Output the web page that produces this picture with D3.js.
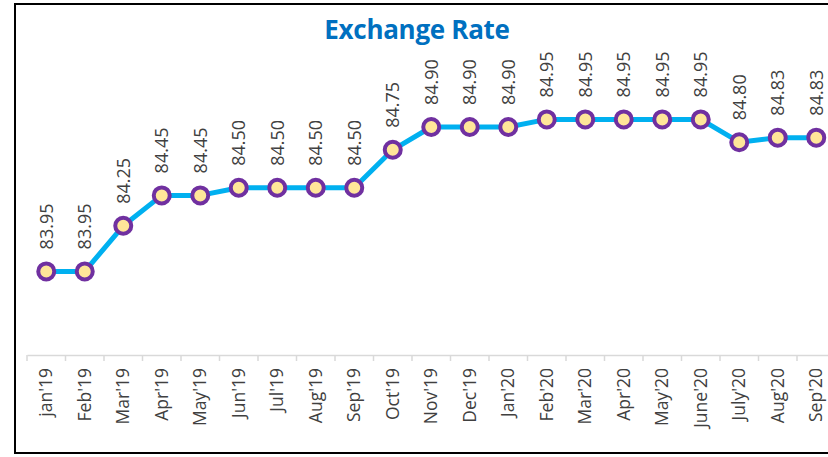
<!DOCTYPE html>
<html>
<head>
<meta charset="utf-8">
<script src="https://cdn.jsdelivr.net/npm/d3@7"></script>
<style>
  body { margin: 0; background: #fff; }
  svg { display: block; }
</style>
</head>
<body>
<script>
// data
const months = ["jan'19", "Feb'19", "Mar'19", "Apr'19", "May'19", "Jun'19", "Jul'19", "Aug'19", "Sep'19",
   "Oct'19", "Nov'19", "Dec'19", "Jan'20", "Feb'20", "Mar'20", "Apr'20", "May'20", "June'20",
   "July'20", "Aug'20", "Sep'20"];
const rates = [83.95, 83.95, 84.25, 84.45, 84.45, 84.50, 84.50, 84.50, 84.50,
   84.75, 84.90, 84.90, 84.90, 84.95, 84.95, 84.95, 84.95, 84.95,
   84.80, 84.83, 84.83];

const width = 828, height = 457;
const font = "'Open Sans', 'DejaVu Sans', sans-serif";

const svg = d3.select('body').append('svg')
   .attr('width', width)
   .attr('height', height);

// chart frame (runs off the right edge like the original)
svg.append('rect')
   .attr('x', 15).attr('y', 4)
   .attr('width', 830).attr('height', 449)
   .style('fill', 'none')
   .style('stroke', '#000')
   .style('stroke-width', 2);

svg.append('text')
   .attr('x', 417).attr('y', 39)
   .attr('text-anchor', 'middle')
   .style('font-family', font)
   .style('font-weight', 'bold')
   .style('font-size', '26px')
   .style('letter-spacing', '-0.3px')
   .style('fill', '#0070C0')
   .text('Exchange Rate');

const x = d3.scaleBand()
   .domain(months)
   .range([27, 27 + 21 * 38.5]);

const y = d3.scaleLinear()
   .domain([83.4, 85.1])
   .range([355, 355 - 1.7 * 152]);

// category axis
const axis = svg.append('g')
   .attr('transform', 'translate(0,355)')
   .call(d3.axisBottom(x).tickSize(0).tickFormat(''));
axis.select('.domain').style('stroke', '#d9d9d9').style('stroke-width', 1.5);

// tick marks sit between categories
svg.selectAll('.sep')
   .data(months)
   .enter().append('line')
   .attr('class', 'sep')
   .attr('x1', d => x(d)).attr('x2', d => x(d))
   .attr('y1', 355).attr('y2', 361)
   .style('stroke', '#d9d9d9')
   .style('stroke-width', 1.5);

svg.selectAll('.xlab')
   .data(months)
   .enter().append('text')
   .attr('class', 'xlab')
   .attr('transform', d => `translate(${x(d) + x.bandwidth() / 2 + 6},368) rotate(-90)`)
   .attr('text-anchor', 'end')
   .style('font-family', font)
   .style('font-size', '17.5px')
   .style('fill', '#404040')
   .text(d => d);

const line = d3.line()
   .x((d, i) => x(months[i]) + x.bandwidth() / 2)
   .y(d => y(d));

svg.append('path')
   .datum(rates)
   .attr('d', line)
   .style('fill', 'none')
   .style('stroke', '#00B0F0')
   .style('stroke-width', 5)
   .style('stroke-linejoin', 'round');

svg.selectAll('.dot')
   .data(rates)
   .enter().append('circle')
   .attr('class', 'dot')
   .attr('cx', (d, i) => x(months[i]) + x.bandwidth() / 2)
   .attr('cy', d => y(d))
   .attr('r', 8)
   .style('fill', '#FFE699')
   .style('stroke', '#7030A0')
   .style('stroke-width', 4);

// value labels, rotated
svg.selectAll('.val')
   .data(rates)
   .enter().append('text')
   .attr('class', 'val')
   .attr('transform', (d, i) => `translate(${x(months[i]) + x.bandwidth() / 2 + 6.5},${y(d) - 22}) rotate(-90)`)
   .attr('text-anchor', 'start')
   .style('font-family', font)
   .style('font-size', '18px')
   .style('fill', '#404040')
   .text(d => d.toFixed(2));
</script>
</body>
</html>
